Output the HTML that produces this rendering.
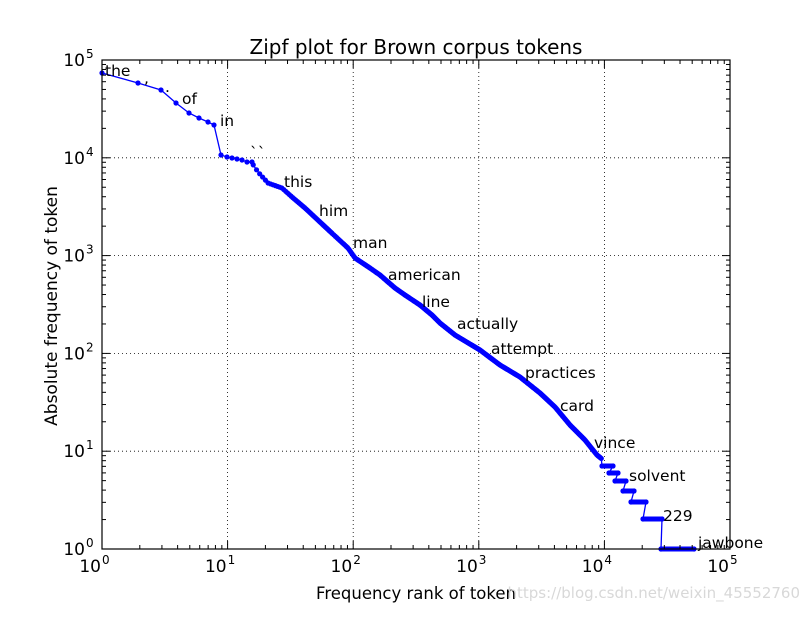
<!DOCTYPE html>
<html><head><meta charset="utf-8"><style>
html,body{margin:0;padding:0;background:#fff;}
svg text{font-family:"DejaVu Sans","Liberation Sans",sans-serif;fill:#000;}
</style></head><body>
<svg id="s" width="812" height="612" xmlns="http://www.w3.org/2000/svg">
<rect width="812" height="612" fill="#fff"/>
<g id="grid"></g>
<g id="data"></g>
<g id="ticks"></g>
<rect x="102" y="60" width="628" height="489" fill="none" stroke="#000" stroke-width="1.2"/>
<text x="416" y="54" font-size="20" text-anchor="middle">Zipf plot for Brown corpus tokens</text>
<text x="416" y="599" font-size="16.5" text-anchor="middle">Frequency rank of token</text>
<text transform="translate(57,306) rotate(-90)" font-size="17" text-anchor="middle">Absolute frequency of token</text>
<g font-size="15.5">
<text x="105" y="76">the</text><text x="144" y="83">,</text><text x="165" y="92">.</text>
<text x="182" y="104">of</text><text x="220" y="126">in</text><text x="250" y="158">``</text>
<text x="284" y="187">this</text><text x="319" y="216">him</text><text x="353" y="248">man</text>
<text x="388" y="280">american</text><text x="422" y="307">line</text><text x="457" y="329">actually</text>
<text x="491" y="354">attempt</text><text x="525" y="378">practices</text><text x="560" y="411">card</text>
<text x="594" y="448">vince</text><text x="629" y="481">solvent</text><text x="663" y="521">229</text>
<text x="698" y="548">jawbone</text>
</g>
<text x="800" y="598" font-size="15" text-anchor="end" style="fill:#d8d8d8">https://blog.csdn.net/weixin_45552760</text>
</svg>
<script>
var NS="http://www.w3.org/2000/svg";
function el(p,t,a){var e=document.createElementNS(NS,t);for(var k in a)e.setAttribute(k,a[k]);p.appendChild(e);return e;}
var X=function(r){return 102+125.6*Math.log10(r);}, Y=function(f){return 549-97.8*Math.log10(f);};
var g=document.getElementById('grid'),t=document.getElementById('ticks'),d=document.getElementById('data');
for(var i=0;i<=5;i++){
 var x=X(Math.pow(10,i)),y=549-97.8*i;
 if(i>0&&i<5){el(g,'line',{x1:x,y1:60,x2:x,y2:549,stroke:'#000','stroke-dasharray':'1,3','stroke-width':0.8});
 el(g,'line',{x1:102,y1:y,x2:730,y2:y,stroke:'#000','stroke-dasharray':'1,3','stroke-width':0.8});}
 var tx=el(t,'text',{x:x-1,y:572,'font-size':17,'text-anchor':'end'});tx.textContent='10';
 var sp=el(t,'text',{x:x,y:564,'font-size':12});sp.textContent=i;
 var ty=el(t,'text',{x:85,y:y+6,'font-size':17,'text-anchor':'end'});ty.textContent='10';
 var sy=el(t,'text',{x:86,y:y-2,'font-size':12});sy.textContent=i;
 el(t,'line',{x1:x,y1:549,x2:x,y2:541,stroke:'#000'});el(t,'line',{x1:x,y1:60,x2:x,y2:68,stroke:'#000'});
 el(t,'line',{x1:102,y1:y,x2:110,y2:y,stroke:'#000'});el(t,'line',{x1:730,y1:y,x2:722,y2:y,stroke:'#000'});
 if(i<5)for(var m=2;m<10;m++){var xm=X(m*Math.pow(10,i)),ym=Y(m*Math.pow(10,i));
  el(t,'line',{x1:xm,y1:549,x2:xm,y2:545,stroke:'#000'});el(t,'line',{x1:xm,y1:60,x2:xm,y2:64,stroke:'#000'});
  el(t,'line',{x1:102,y1:ym,x2:106,y2:ym,stroke:'#000'});el(t,'line',{x1:730,y1:ym,x2:726,y2:ym,stroke:'#000'});}
}
var pts=[[102,73],[138,83],[161,90],[176,103],[189,113],[199,118],[208,122],[214,125],[221,155],[227,157],[232,158],[237,159],[242,160],[247,162],[252,162]];
var anc=[[252,163],[258,172],[268,183],[282,188],[292,197],[305,208],[320,222],[335,236],[348,248],[355,258],[370,268],[380,275],[395,288],[405,295],[420,305],[432,315],[440,323],[455,335],[480,350],[500,365],[520,377],[540,393],[555,407],[570,425],[585,440],[597,455],[602,459]];
function interp(x){for(var k=0;k<anc.length-1;k++){if(x<=anc[k+1][0]){var a=anc[k],b=anc[k+1];return a[1]+(b[1]-a[1])*(x-a[0])/(b[0]-a[0]);}}return anc[anc.length-1][1];}
var lastx=0;
for(var r=16;r<9500;r++){var x=X(r);if(x<252)continue;if(x>602)break;
 if(x-lastx<0.8)continue;lastx=x;pts.push([x,interp(x)]);}
var steps=[[602,613,466],[609,618,473],[615,626,481],[623,634,491],[631,646,502],[643,662,519],[661,694,549]];
steps.forEach(function(s){pts.push([s[0],s[2]]);pts.push([s[1],s[2]]);});
var dstr='M'+pts.map(function(p){return p[0].toFixed(1)+','+p[1].toFixed(1);}).join('L');
el(d,'path',{d:dstr,fill:'none',stroke:'#0000ff','stroke-width':1.3});
pts.forEach(function(p){el(d,'circle',{cx:p[0],cy:p[1],r:2.6,fill:'#0000ff'});});
steps.forEach(function(s){el(d,'line',{x1:s[0],y1:s[2],x2:s[1],y2:s[2],stroke:'#0000ff','stroke-width':5,'stroke-linecap':'round'});});
</script>
</body></html>
